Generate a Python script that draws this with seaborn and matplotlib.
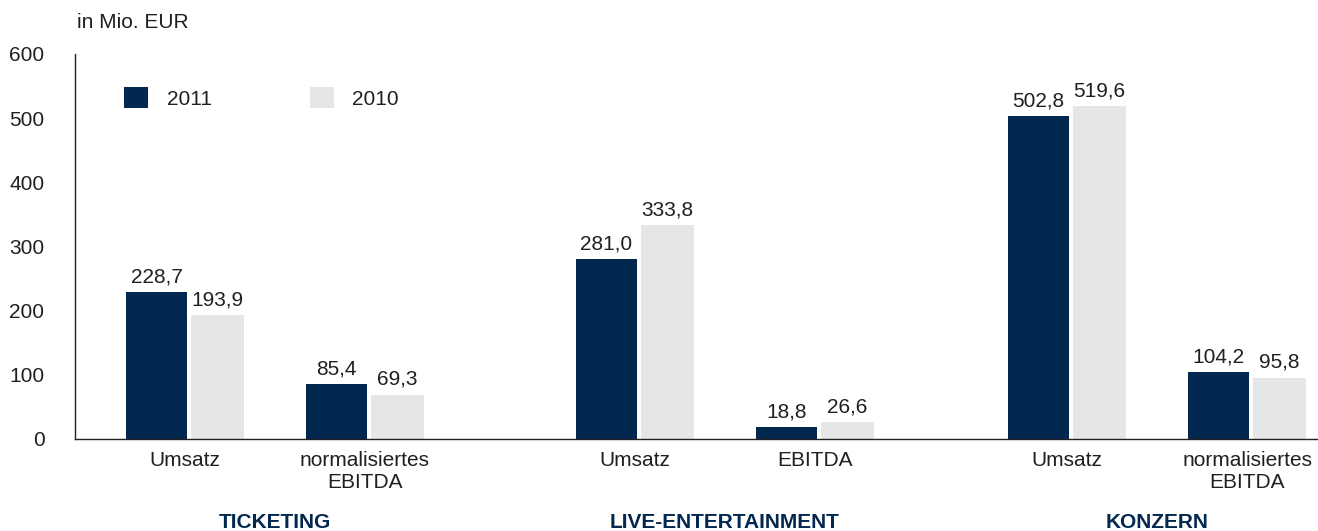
import matplotlib
matplotlib.use("Agg")
import matplotlib.pyplot as plt
import matplotlib.transforms as mtransforms
from matplotlib.patches import Patch
import seaborn as sns
import pandas as pd

# ---- data ----
segments = ["TICKETING", "TICKETING", "LIVE-ENTERTAINMENT", "LIVE-ENTERTAINMENT", "KONZERN", "KONZERN"]
kpis = ["Umsatz", "normalisiertes\nEBITDA", "Umsatz", "EBITDA", "Umsatz", "normalisiertes\nEBITDA"]
values_2011 = [228.7, 85.4, 281.0, 18.8, 502.8, 104.2]
values_2010 = [193.9, 69.3, 333.8, 26.6, 519.6, 95.8]
years = ["2011", "2010"]
y_ticks = [0, 100, 200, 300, 400, 500, 600]

# ---- layout (slot positions of the category pairs) ----
slots = [0.0, 1.0, 2.5, 3.5, 4.9, 5.9]

DARK = "#03284F"
LIGHT = "#E5E6E8"
TEXT = "#231F20"

sns.set_theme(style="white")
plt.rcParams["font.family"] = ["Liberation Sans", "DejaVu Sans"]

rows = []
for s, k, p, a, b in zip(segments, kpis, slots, values_2011, values_2010):
    rows.append({"segment": s, "kpi": k, "pos": p, "Jahr": years[0], "value": a})
    rows.append({"segment": s, "kpi": k, "pos": p, "Jahr": years[1], "value": b})
df = pd.DataFrame(rows)

W, H = 1318, 531
fig = plt.figure(figsize=(W / 100, H / 100), dpi=100)
ax = fig.add_axes([75 / W, 92 / H, 1 - 75 / W, (439 - 54) / H])

sns.barplot(data=df, x="pos", y="value", hue="Jahr", hue_order=years,
            palette=[DARK, LIGHT], native_scale=True, width=0.656,
            saturation=1, linewidth=0, dodge=True, ax=ax, legend=False)

# bar widths: dark slightly wider than light, small gap between them
dark_c, light_c = ax.containers[0], ax.containers[1]
for bar in dark_c:
    bar.set_width(0.339)
for bar in light_c:
    right = bar.get_x() + bar.get_width()
    bar.set_x(right - 0.294)
    bar.set_width(0.294)

fmt = lambda v: f"{v:.1f}".replace(".", ",")
for cont, vals in zip([dark_c, light_c], [values_2011, values_2010]):
    ax.bar_label(cont, labels=[fmt(v) for v in vals], padding=4,
                 fontsize=15, color=TEXT)

ax.set_xlim(-0.611, 6.294)
ax.set_ylim(0, 600)
ax.set_yticks(y_ticks)
ax.set_yticklabels([str(t) for t in y_ticks])
ax.set_xticks(slots)
ax.set_xticklabels(kpis, linespacing=1.2)
ax.tick_params(axis="y", length=0, pad=22, labelsize=15, labelcolor=TEXT)
ax.tick_params(axis="x", length=0, pad=8.5, labelsize=15, labelcolor=TEXT)
ax.set_xlabel("")
ax.set_ylabel("")

for side in ["top", "right"]:
    ax.spines[side].set_visible(False)
for side in ["left", "bottom"]:
    ax.spines[side].set_color(TEXT)
    ax.spines[side].set_linewidth(1.0)

# group labels
trans = mtransforms.blended_transform_factory(ax.transData, fig.transFigure)
seen = []
for s in segments:
    if s not in seen:
        seen.append(s)
for s in seen:
    ps = [p for p, seg in zip(slots, segments) if seg == s]
    ax.text(sum(ps) / len(ps), 8 / H, s, transform=trans, ha="center", va="center",
            fontsize=15, fontweight="bold", color=DARK)

fig.text(77 / W, 1 - 22 / H, "in Mio. EUR", ha="left", va="center", fontsize=15, color=TEXT)

handles = [Patch(facecolor=DARK, edgecolor="none"), Patch(facecolor=LIGHT, edgecolor="none")]
fig.legend(handles, years, loc="center left", bbox_to_anchor=(124 / W, 1 - 98 / H),
           ncol=2, frameon=False, fontsize=15, handlelength=1.15, handleheight=1.15,
           handletextpad=0.9, columnspacing=4.7, borderpad=0, borderaxespad=0,
           labelcolor=TEXT)

fig.savefig("out.png", dpi=100)
